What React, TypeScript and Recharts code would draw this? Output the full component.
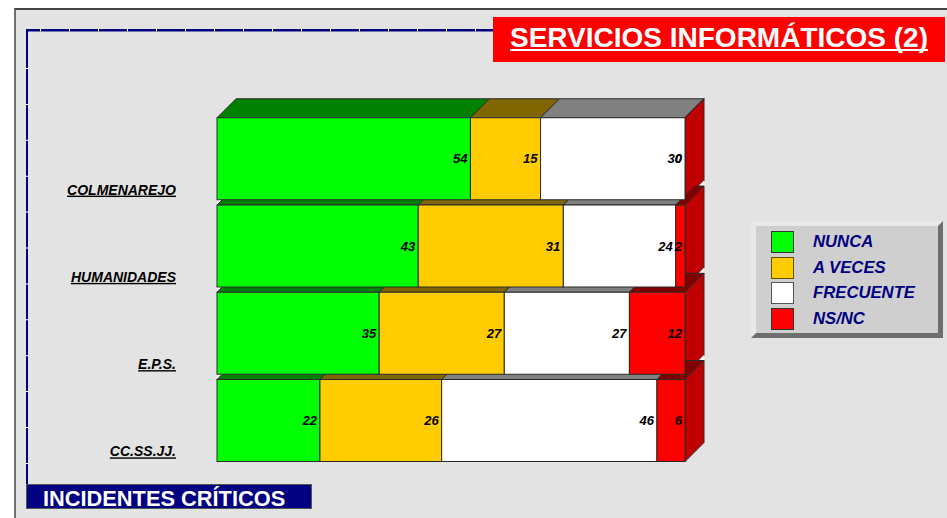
import { BarChart, Bar, XAxis, YAxis, Legend, LabelList } from 'recharts';

const categories = ['COLMENAREJO', 'HUMANIDADES', 'E.P.S.', 'CC.SS.JJ.'];
const nunca = [53.5, 43, 35, 22];
const aVeces = [14.8, 31, 27, 26];
const frecuente = [30.49, 24, 27, 46];
const nsnc = [0, 2, 12, 6];

const seriesNames = ['NUNCA', 'A VECES', 'FRECUENTE', 'NS/NC'];
const seriesValues = [nunca, aVeces, frecuente, nsnc];
const frontColors = ['#00ff00', '#ffcc00', '#ffffff', '#ff0000'];
const topColors = ['#008000', '#806600', '#808080', '#800000'];
const swatchBorders = ['#333333', '#665200', '#555555', '#333333'];
const sideColor = '#c00000';

const FONT = '"Liberation Sans", Arial, sans-serif';
const NAVY = '#000080';
const DEPTH = 19;
const GAP = 5.5;

const data = categories.map((name, i) => {
    const row: Record<string, string | number> = { name };
    seriesNames.forEach((s, j) => {
        row[s] = seriesValues[j][i];
    });
    return row;
});

// top and side faces of the 3D bars, drawn under all the front faces
function BackFace(props: any) {
    const { x, y, width, height, index, seriesIndex } = props;
    const d = DEPTH;
    const isLast = seriesIndex === seriesNames.length - 1;
    const right = x + width;
    return (
        <g stroke="#2a2a2a" strokeWidth={1}>
            {seriesIndex === 0 && index > 0 && (
                <polygon points={`${x},${y} ${x},${y - GAP} ${x + GAP},${y - GAP}`} fill="#ffffff" stroke="none" />
            )}
            {isLast && index > 0 && (
                <polygon
                    points={`${right + d},${y - d} ${right + d},${y - d - GAP} ${right + d - GAP},${y - d}`}
                    fill="#ffffff"
                    stroke="none"
                />
            )}
            <polygon
                points={`${x},${y} ${x + d},${y - d} ${right + d},${y - d} ${right},${y}`}
                fill={topColors[seriesIndex]}
            />
            {isLast && (
                <polygon
                    points={`${right},${y} ${right + d},${y - d} ${right + d},${y + height - d} ${right},${y + height}`}
                    fill={sideColor}
                />
            )}
        </g>
    );
}

function FrontFace(props: any) {
    const { x, y, width, height, fill } = props;
    return <rect x={x} y={y} width={width} height={height} fill={fill} stroke="#2a2a2a" strokeWidth={1} />;
}

function CategoryTick(props: any) {
    const { x, y, payload } = props;
    return (
        <text
            x={x}
            y={y + 36}
            textAnchor="end"
            fontFamily={FONT}
            fontSize={14}
            fontWeight="bold"
            fontStyle="italic"
            textDecoration="underline"
            fill="#000000"
            style={{ textDecorationSkipInk: 'none' }}
        >
            {payload.value}
        </text>
    );
}

function LegendBox() {
    return (
        <div
            style={{
                position: 'relative',
                boxSizing: 'border-box',
                width: 192,
                height: 117,
                background: '#cfcfcf',
                borderStyle: 'solid',
                borderWidth: 5,
                borderColor: '#e8e8e8 #6e6e6e #6e6e6e #e8e8e8',
            }}
        >
            {seriesNames.map((name, i) => (
                <div key={name}>
                    <div
                        style={{
                            position: 'absolute',
                            boxSizing: 'border-box',
                            left: 15,
                            top: 5 + i * 25.7,
                            width: 23,
                            height: 22,
                            background: frontColors[i],
                            border: `1px solid ${swatchBorders[i]}`,
                        }}
                    />
                    <div
                        style={{
                            position: 'absolute',
                            left: 57,
                            top: 5 + i * 25.7,
                            lineHeight: '21px',
                            fontFamily: FONT,
                            fontSize: 16.7,
                            fontWeight: 'bold',
                            fontStyle: 'italic',
                            color: NAVY,
                            whiteSpace: 'nowrap',
                        }}
                    >
                        {name}
                    </div>
                </div>
            ))}
        </div>
    );
}

export default function App() {
    return (
        <div style={{ position: 'absolute', left: 0, top: 0, width: 947, height: 518, overflow: 'hidden', background: '#ffffff' }}>
            {/* Panel */}
            <div
                style={{
                    position: 'absolute',
                    left: 14,
                    top: 8,
                    width: 960,
                    height: 540,
                    boxSizing: 'border-box',
                    background: '#e3e3e3',
                    borderLeft: '2px solid #707070',
                    borderTop: '2px solid #444444',
                }}
            />

            {/* Dashed frame */}
            <svg width={947} height={518} style={{ position: 'absolute', left: 0, top: 0 }}>
                <line x1={26} y1={30.25} x2={495} y2={30.25} stroke={NAVY} strokeWidth={2.5} />
                <line x1={27} y1={29} x2={27} y2={486} stroke={NAVY} strokeWidth={2} />
                <line x1={40} y1={30.25} x2={495} y2={30.25} stroke="#ffffff" strokeWidth={2.5} strokeDasharray="1 28" />
                <line x1={27} y1={68} x2={27} y2={486} stroke="#ffffff" strokeWidth={2} strokeDasharray="1 34.9" />
            </svg>

            <div style={{ position: 'absolute', left: 0, top: 0 }}>
                <BarChart
                    width={947}
                    height={518}
                    data={data}
                    layout="vertical"
                    stackOffset="expand"
                    barCategoryGap={GAP / 2}
                    margin={{ top: 115, right: 262, bottom: 54, left: 0 }}
                >
                    <XAxis xAxisId="back" type="number" domain={[0, 1]} hide />
                    <YAxis yAxisId="back" type="category" dataKey="name" width={0} hide />
                    <XAxis xAxisId="front" type="number" domain={[0, 1]} hide />
                    <YAxis
                        yAxisId="front"
                        type="category"
                        dataKey="name"
                        width={217}
                        axisLine={false}
                        tickLine={false}
                        tickSize={0}
                        tickMargin={41}
                        tick={<CategoryTick />}
                    />
                    <Legend
                        layout="horizontal"
                        verticalAlign="middle"
                        content={<LegendBox />}
                        wrapperStyle={{ left: 751, top: 221, width: 192, height: 117 }}
                    />
                    {seriesNames.map((name, i) => (
                        <Bar
                            key={`back-${name}`}
                            xAxisId="back"
                            yAxisId="back"
                            dataKey={name}
                            stackId="back"
                            isAnimationActive={false}
                            shape={(p: any) => <BackFace {...p} seriesIndex={i} />}
                        />
                    ))}
                    {seriesNames.map((name, i) => (
                        <Bar
                            key={`front-${name}`}
                            xAxisId="front"
                            yAxisId="front"
                            dataKey={name}
                            stackId="front"
                            fill={frontColors[i]}
                            isAnimationActive={false}
                            shape={<FrontFace />}
                        >
                            <LabelList
                                dataKey={name}
                                position="insideRight"
                                offset={3}
                                formatter={(v: any) => Math.round(v)}
                                style={{
                                    fontFamily: FONT,
                                    fontSize: 13,
                                    fontWeight: 'bold',
                                    fontStyle: 'italic',
                                    fill: '#000000',
                                }}
                            />
                        </Bar>
                    ))}
                </BarChart>
            </div>

            {/* Title */}
            <div
                style={{
                    position: 'absolute',
                    left: 493,
                    top: 17,
                    width: 452,
                    height: 45,
                    background: '#ff0000',
                    color: '#ffffff',
                    fontFamily: FONT,
                    fontSize: 28,
                    fontWeight: 'bold',
                    lineHeight: '42px',
                    textDecoration: 'underline',
                    textDecorationSkipInk: 'none',
                    paddingLeft: 17,
                    boxSizing: 'border-box',
                    whiteSpace: 'nowrap',
                }}
            >
                SERVICIOS INFORMÁTICOS (2)
            </div>

            {/* Footer */}
            <div
                style={{
                    position: 'absolute',
                    left: 26,
                    top: 484,
                    width: 286,
                    height: 25,
                    boxSizing: 'border-box',
                    background: NAVY,
                    border: '1px solid #555555',
                    color: '#ffffff',
                    fontFamily: FONT,
                    fontSize: 21.8,
                    fontWeight: 'bold',
                    lineHeight: '27px',
                    paddingLeft: 16,
                    whiteSpace: 'nowrap',
                }}
            >
                INCIDENTES CRÍTICOS
            </div>
        </div>
    );
}
